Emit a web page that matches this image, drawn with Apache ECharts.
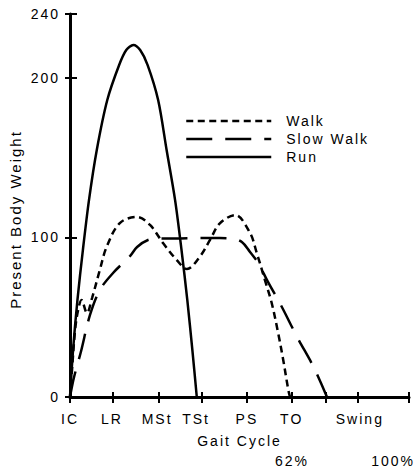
<!DOCTYPE html>
<html>
<head>
<meta charset="utf-8">
<script src="https://cdn.jsdelivr.net/npm/echarts@6/dist/echarts.min.js"></script>
<style>
  html, body { margin: 0; padding: 0; background: #fff; }
  #chart { width: 414px; height: 471px; }
  #chart text { letter-spacing: 2px; }
</style>
</head>
<body>
<div id="chart"></div>
<script>
// Position along the gait cycle (0 = initial contact, 100 = end of swing)
// and ground reaction load in percent of body weight.
const walkX = [0, 0.6, 1.5, 2.4, 3.4, 5.0, 6.5, 8.8, 10.8, 14.7, 19.7, 23.6, 27.5, 31.5, 34.5,
               38.3, 41.3, 44.2, 48.7, 53.1, 55.1, 57.5, 59.5, 61.4, 62.9, 64.4, 64.9];
const walkY = [0, 17, 42, 54.5, 60.8, 52.6, 62, 79.6, 94, 109, 112.8, 107.8, 96.3, 85.8, 80.2,
               87.9, 98.4, 108.8, 114, 102.8, 90.2, 73.3, 58.9, 40.1, 23.2, 4.4, 0];

const slowWalkX = [0, 1.2, 3.2, 5.9, 8.8, 12.7, 17.7, 19.8, 23.0, 26.5, 31.0, 38.3, 44.2, 47.8,
                   50.7, 53.1, 55.5, 58.4, 62.2, 67.0, 72.0, 75.8];
const slowWalkY = [0, 12.5, 28.2, 51.4, 67, 77.7, 88.3, 94, 98.4, 99.3, 99.3, 99.6, 99.6, 99.3,
                   97.1, 90.9, 84, 72.1, 57.6, 37.6, 18.2, 0];

const runX = [0, 0.9, 2.2, 3.8, 5.6, 7.9, 11.0, 14.5, 16.6, 18.7, 20.7, 22.9, 26.0, 28.5, 31.0,
              32.9, 34.6, 36.1, 37.4];
const runY = [0, 29.4, 60.8, 92.1, 123.4, 154.8, 186.1, 208, 217.4, 220.6, 217.4, 208, 186.1,
              154.8, 123.4, 92.1, 60.8, 29.4, 0];

// Gait phase names and where they sit along the cycle axis
const phaseLabels = ['IC', 'LR', 'MSt', 'TSt', 'PS', 'TO', 'Swing'];
const phaseLabelPos = [0, 12.4, 25.7, 37.2, 52.2, 65.4, 85.5];
const phaseTicks = [0, 12.7, 26.3, 38.9, 52.2, 65.5, 75.5, 85.0, 100];
const pctLabels = ['62%', '100%'];
const pctLabelPos = [65.5, 95.3];
const yTicks = [0, 100, 200, 240];

const zip = (xs, ys) => xs.map((x, i) => [x, ys[i]]);
const FONT = 'Liberation Sans';
const BLACK = '#000';
const txt = { color: BLACK, fontFamily: FONT, fontSize: 14 };

const chart = echarts.init(document.getElementById('chart'), null, { renderer: 'svg' });

chart.setOption({
  animation: false,
  backgroundColor: '#fff',
  grid: { left: 70, right: 5, top: 14, bottom: 74, containLabel: false },
  legend: {
    orient: 'vertical',
    left: 185,
    top: 114,
    padding: 0,
    itemWidth: 85,
    itemHeight: 14,
    itemGap: 4,
    // line-only keys: the marker dot that line series add is hidden
    itemStyle: { opacity: 0 },
    lineStyle: { width: 2.5 },
    textStyle: Object.assign({ padding: [0, 0, 0, 10] }, txt),
    data: ['Walk', 'Slow Walk', 'Run']
  },
  xAxis: [
    {
      type: 'value', min: 0, max: 100, position: 'bottom',
      axisLine: { show: true, onZero: false, lineStyle: { color: BLACK, width: 3 } },
      axisTick: { show: true, length: 6, customValues: phaseTicks, lineStyle: { color: BLACK, width: 2 } },
      axisLabel: {
        customValues: phaseLabelPos, margin: 15, ...txt,
        formatter: v => phaseLabels[phaseLabelPos.indexOf(v)]
      },
      splitLine: { show: false },
      name: 'Gait Cycle', nameLocation: 'middle', nameGap: 37,
      nameTextStyle: txt
    },
    {
      type: 'value', min: 0, max: 100, position: 'bottom',
      axisLine: { show: false },
      axisTick: { show: true, inside: true, length: 5, customValues: phaseTicks, lineStyle: { color: BLACK, width: 2 } },
      axisLabel: {
        customValues: pctLabelPos, margin: 57, ...txt,
        formatter: v => pctLabels[pctLabelPos.indexOf(v)]
      },
      splitLine: { show: false }
    }
  ],
  yAxis: [
    {
      type: 'value', min: 0, max: 240, position: 'left',
      axisLine: { show: true, onZero: false, lineStyle: { color: BLACK, width: 3 } },
      axisTick: { show: true, length: 5, customValues: yTicks, lineStyle: { color: BLACK, width: 2 } },
      axisLabel: { customValues: yTicks, margin: 10, ...txt },
      splitLine: { show: false },
      name: 'Present Body Weight', nameLocation: 'middle', nameGap: 47,
      nameTextStyle: Object.assign({ padding: [0, 28, 0, 0] }, txt, { fontSize: 15 })
    },
    {
      type: 'value', min: 0, max: 240, position: 'left',
      axisLine: { show: false },
      axisTick: { show: true, inside: true, length: 7, customValues: yTicks, lineStyle: { color: BLACK, width: 2 } },
      axisLabel: { show: false },
      splitLine: { show: false }
    }
  ],
  series: [
    {
      name: 'Walk', type: 'line', data: zip(walkX, walkY),
      showSymbol: false, symbol: 'none', smooth: 0.35,
      lineStyle: { color: BLACK, width: 2.5, type: [7, 4.5] },
      itemStyle: { color: BLACK }
    },
    {
      name: 'Slow Walk', type: 'line', data: zip(slowWalkX, slowWalkY),
      showSymbol: false, symbol: 'none', smooth: 0.35,
      lineStyle: { color: BLACK, width: 2.5, type: [26, 13] },
      itemStyle: { color: BLACK }
    },
    {
      name: 'Run', type: 'line', data: zip(runX, runY),
      showSymbol: false, symbol: 'none', smooth: 0.3,
      lineStyle: { color: BLACK, width: 2.5, type: 'solid' },
      itemStyle: { color: BLACK }
    }
  ]
});
</script>
</body>
</html>
